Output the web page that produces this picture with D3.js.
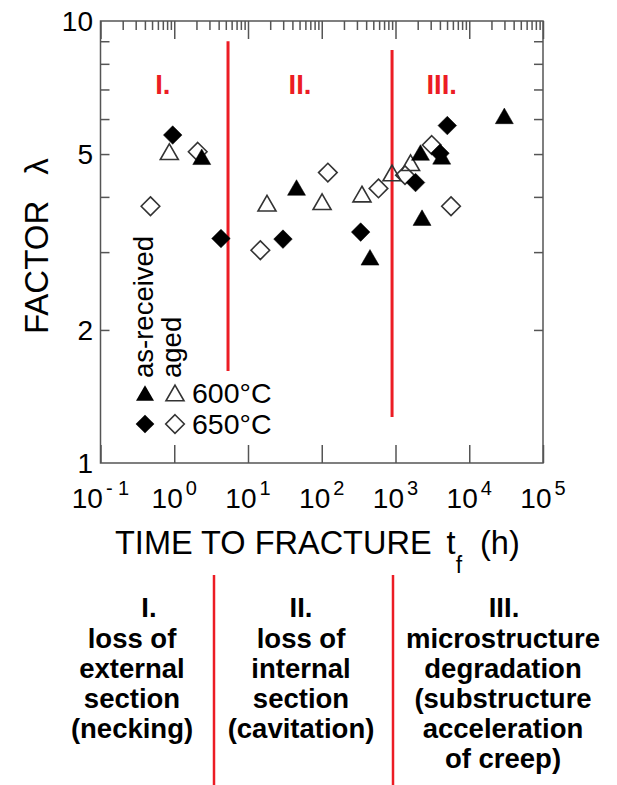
<!DOCTYPE html>
<html lang="en">
<head>
<meta charset="UTF-8">
<title>Factor lambda vs time to fracture</title>
<script src="https://d3js.org/d3.v7.min.js"></script>
<style>
    body { margin: 0; background: #fff; }
    svg { display: block; font-family: "Liberation Sans", Arial, sans-serif; }
    .frame { fill: none; stroke: #555; stroke-width: 1.5px; }
    .tick line { stroke: #555; stroke-width: 1.5px; }
    .domain { display: none; }
    .red { stroke: #ec1c24; stroke-width: 3px; }
    .region { fill: #ec1c24; font-weight: bold; font-size: 27.5px; }
    .col { font-weight: bold; font-size: 27.5px; fill: #000; }
</style>
</head>
<body>
<svg width="617" height="785"></svg>
<script>
// time to fracture (h), factor lambda
const asReceived600 = [[2.36, 4.93], [45.5, 4.20], [451, 2.92], [2180, 5.04], [4230, 4.94], [2290, 3.59], [29900, 6.10]];
const aged600 = [[0.857, 5.06], [18.1, 3.87], [101, 3.90], [351, 4.06], [897, 4.53], [1600, 4.78]];
const asReceived650 = [[0.953, 5.52], [4.30, 3.22], [29.8, 3.21], [337, 3.33], [1870, 4.31], [4010, 5.02], [5040, 5.80]];
const aged650 = [[0.476, 3.81], [2.08, 5.06], [14.7, 3.03], [121, 4.54], [588, 4.18], [1345, 4.48], [3100, 5.24], [5660, 3.81]];

// region boundaries: time, lambda top, lambda bottom
const boundaries = [[5.36, 9.0, 1.615], [898, 8.6, 1.27]];
const regionLabels = [["I.", 0.70], ["II.", 50.7], ["III.", 4230]];

const xExponents = [-1, 0, 1, 2, 3, 4, 5];
const yLabels = [1, 2, 5, 10];
const yMinor = [2, 3, 4, 5, 6, 7, 8, 9];

const columns = [
    {head: "I.", lines: ["loss of", "external", "section", "(necking)"]},
    {head: "II.", lines: ["loss of", "internal", "section", "(cavitation)"]},
    {head: "III.", lines: ["microstructure", "degradation", "(substructure", "acceleration", "of creep)"]}
];

const svg = d3.select("svg");

const x = d3.scaleLog().domain([0.1, 1e5]).range([100.5, 543]);
const y = d3.scaleLog().domain([1, 10]).range([463, 21]);

const majors = xExponents.map(e => Math.pow(10, e));
const minors = [];
xExponents.slice(0, -1).forEach(e => {
    for (let k = 2; k <= 9; k++) minors.push(k * Math.pow(10, e));
});

// frame
svg.append("rect").attr("class", "frame")
    .attr("x", x(0.1)).attr("y", y(10))
    .attr("width", x(1e5) - x(0.1)).attr("height", y(1) - y(10));

// ticks (inward)
svg.append("g").attr("transform", `translate(0,${y(1)})`)
    .call(d3.axisBottom(x).tickValues(majors).tickSize(-18).tickFormat(""));
svg.append("g").attr("transform", `translate(0,${y(10)})`)
    .call(d3.axisTop(x).tickValues(majors).tickSize(-18).tickFormat(""));
svg.append("g").attr("transform", `translate(0,${y(10)})`)
    .call(d3.axisTop(x).tickValues(minors).tickSize(-9).tickFormat(""));
svg.append("g").attr("transform", `translate(${x(0.1)},0)`)
    .call(d3.axisLeft(y).tickValues(yMinor).tickSize(-9).tickFormat(""));
svg.append("g").attr("transform", `translate(${x(1e5)},0)`)
    .call(d3.axisRight(y).tickValues(yMinor).tickSize(-9).tickFormat(""));

// x tick labels 10^n
xExponents.forEach(e => {
    const t = svg.append("text")
        .attr("x", x(Math.pow(10, e)))
        .attr("y", 508)
        .attr("text-anchor", "middle")
        .attr("font-size", 28);
    t.append("tspan").text("10");
    t.append("tspan").attr("dx", 3).attr("dy", -13).attr("font-size", 20)
        .text(e < 0 ? "- " + (-e) : String(e));
});

// y tick labels
svg.selectAll(".ylab").data(yLabels).enter().append("text")
    .attr("x", 93).attr("y", d => y(d)).attr("dy", "0.36em")
    .attr("text-anchor", "end").attr("font-size", 28)
    .text(d => d);

// axis titles
const xt = svg.append("text").attr("x", 115).attr("y", 554).attr("font-size", 32.5);
xt.append("tspan").text("TIME TO FRACTURE");
xt.append("tspan").attr("dx", 15).text("t");
xt.append("tspan").attr("dy", 19).attr("font-size", 23).text("f");
xt.append("tspan").attr("dx", 18).attr("dy", -19).text("(h)");

const yt = svg.append("text").attr("transform", "translate(48,334) rotate(-90)").attr("font-size", 33);
yt.append("tspan").text("FACTOR");
yt.append("tspan").attr("dx", 26).text("λ");

// region boundaries and labels
svg.selectAll(".bound").data(boundaries).enter().append("line")
    .attr("class", "red")
    .attr("x1", d => x(d[0])).attr("x2", d => x(d[0]))
    .attr("y1", d => y(d[1])).attr("y2", d => y(d[2]));

svg.selectAll(".region").data(regionLabels).enter().append("text")
    .attr("class", "region")
    .attr("x", d => x(d[1])).attr("y", 94)
    .attr("text-anchor", "middle")
    .text(d => d[0]);

// markers
const triSide = 18, triH = triSide * Math.sqrt(3) / 2;
const triangle = d3.line()([[0, -triH / 2], [triSide / 2, triH / 2], [-triSide / 2, triH / 2]]) + "Z";
const half = 9.3;
const diamond = d3.line()([[0, -half], [half, 0], [0, half], [-half, 0]]) + "Z";

function drawSeries(data, path, filled) {
    svg.append("g").selectAll("path").data(data).enter().append("path")
        .attr("d", path)
        .attr("transform", d => `translate(${x(d[0])},${y(d[1])})`)
        .attr("fill", filled ? "#000" : "none")
        .attr("stroke", filled ? "#000" : "#333")
        .attr("stroke-width", filled ? 0.5 : 1.6);
}
drawSeries(aged600, triangle, false);
drawSeries(aged650, diamond, false);
drawSeries(asReceived650, diamond, true);
drawSeries(asReceived600, triangle, true);

// legend
svg.append("text").attr("transform", "translate(153,378) rotate(-90)").attr("font-size", 27.5).text("as-received");
svg.append("text").attr("transform", "translate(181,378) rotate(-90)").attr("font-size", 27.5).text("aged");
const legendRows = [{y: 393, shape: triangle, label: "600°C"}, {y: 424, shape: diamond, label: "650°C"}];
legendRows.forEach(r => {
    svg.append("path").attr("d", r.shape).attr("transform", `translate(145,${r.y})`).attr("fill", "#000");
    svg.append("path").attr("d", r.shape).attr("transform", `translate(175,${r.y})`)
        .attr("fill", "none").attr("stroke", "#333").attr("stroke-width", 1.6);
    svg.append("text").attr("x", 192).attr("y", r.y + 10).attr("font-size", 28.5).text(r.label);
});

// table of mechanisms below the chart
const colX = [132, 301, 503];
const headX = [149, 301, 504];
columns.forEach((c, i) => {
    svg.append("text").attr("class", "col").attr("x", headX[i]).attr("y", 617)
        .attr("text-anchor", "middle").text(c.head);
    c.lines.forEach((l, j) => {
        svg.append("text").attr("class", "col").attr("x", colX[i]).attr("y", 648 + j * 30)
            .attr("text-anchor", "middle").text(l);
    });
});
[214, 393].forEach(px => {
    svg.append("line").attr("x1", px).attr("x2", px).attr("y1", 575).attr("y2", 785)
        .attr("stroke", "#ec1c24").attr("stroke-width", 2.5);
});
</script>
</body>
</html>
